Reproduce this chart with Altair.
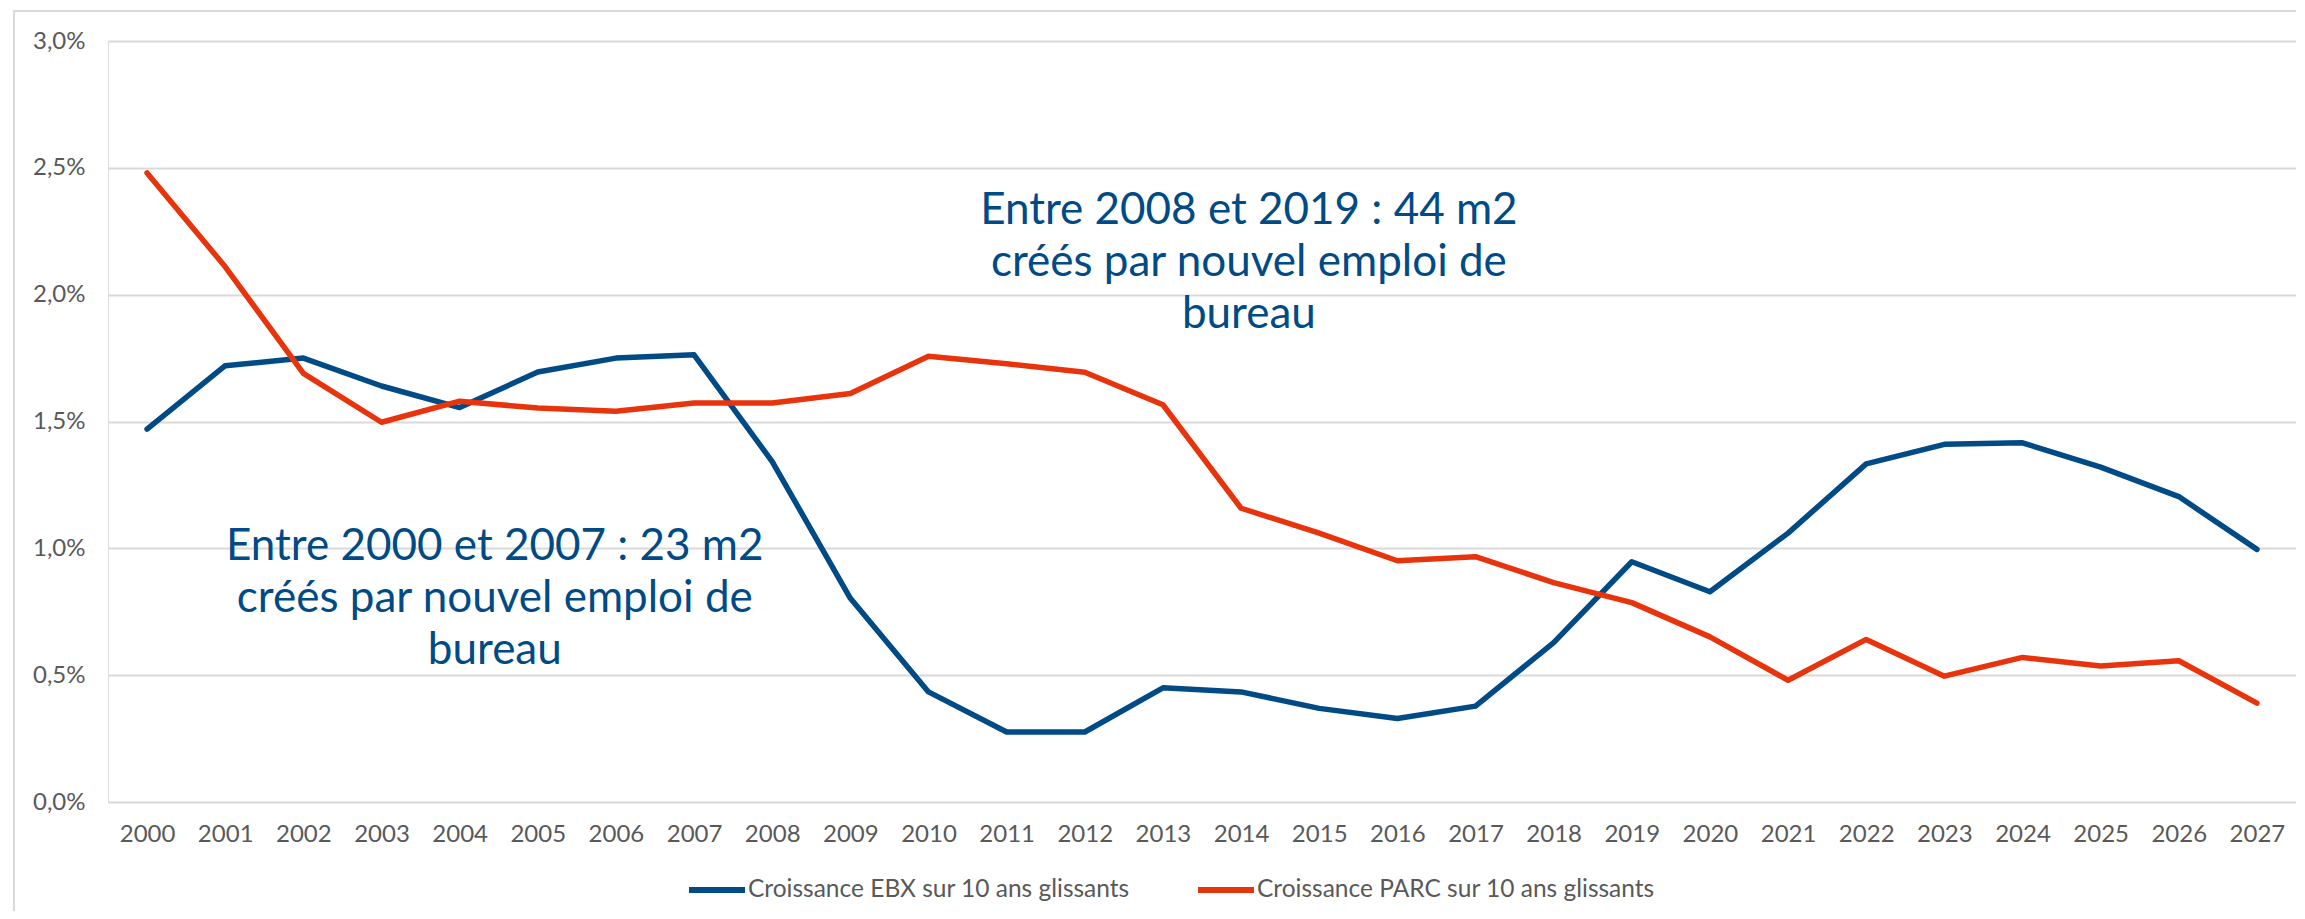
import altair as alt
import pandas as pd

years = list(range(2000, 2028))
ebx = [1.47, 1.72, 1.75, 1.64, 1.555, 1.695, 1.75, 1.763, 1.342, 0.803,
       0.434, 0.276, 0.276, 0.45, 0.434, 0.369, 0.329, 0.378, 0.628, 0.947,
       0.829, 1.06, 1.333, 1.41, 1.416, 1.32, 1.204, 0.996]
parc = [2.48, 2.11, 1.69, 1.497, 1.58, 1.553, 1.54, 1.573, 1.573, 1.61,
        1.757, 1.728, 1.694, 1.566, 1.158, 1.06, 0.951, 0.967, 0.865, 0.786,
        0.651, 0.48, 0.641, 0.496, 0.57, 0.536, 0.557, 0.39]
series_names = ["Croissance EBX sur 10 ans glissants",
                "Croissance PARC sur 10 ans glissants"]
series_colors = ["#004A86", "#E8340C"]

notes_text = ["Entre 2008 et 2019 : 44 m2\ncréés par nouvel emploi de\nbureau",
              "Entre 2000 et 2007 : 23 m2\ncréés par nouvel emploi de\nbureau"]
notes_x = [2014.1, 2004.45]
notes_y = [2.328, 1.006]

y_ticks = [0, 0.5, 1.0, 1.5, 2.0, 2.5, 3.0]

rows = []
for i, yr in enumerate(years):
    rows.append({"year": yr, "value": ebx[i], "series": series_names[0]})
    rows.append({"year": yr, "value": parc[i], "series": series_names[1]})
df = pd.DataFrame(rows)
notes = pd.DataFrame({"x": notes_x, "y": notes_y, "t": notes_text})

W, H = 2188, 761
xscale = alt.Scale(domain=[1999.5, 2027.5], nice=False, zero=False)
yscale = alt.Scale(domain=[0, 3], nice=False)

border = alt.Chart(pd.DataFrame({"a": [0]})).mark_rect(
    fill=None, stroke="#D9D9D9", strokeWidth=2, clip=False
).encode(
    x=alt.value(-94), x2=alt.value(2300), y=alt.value(-30), y2=alt.value(900)
)

lines = alt.Chart(df).mark_line(strokeWidth=5.5, strokeJoin="round", strokeCap="round").encode(
    x=alt.X("year:Q", scale=xscale, title=None,
            axis=alt.Axis(values=years, format="d", grid=False, ticks=False, tickSize=0,
                          domain=False, labelFont="Lato", labelFontSize=24,
                          labelColor="#595959", labelPadding=32, labelBaseline="middle")),
    y=alt.Y("value:Q", scale=yscale, title=None,
            axis=alt.Axis(values=y_ticks, grid=True, gridColor="#D9D9D9", gridWidth=2,
                          ticks=False, tickSize=0, domain=False,
                          labelExpr="replace(format(datum.value, '.1f'), '.', ',') + '%'",
                          labelFont="Lato", labelFontSize=24, labelColor="#595959",
                          labelPadding=23)),
    color=alt.Color("series:N",
                    scale=alt.Scale(domain=series_names, range=series_colors),
                    legend=alt.Legend(title=None, orient="none", direction="horizontal",
                                      legendX=578, legendY=818, padding=0,
                                      symbolType="stroke", symbolSize=3136,
                                      symbolStrokeWidth=6, labelFont="Lato",
                                      labelFontSize=24.5, labelColor="#595959",
                                      labelLimit=1000,
                                      labelOffset=0, columnPadding=56)),
)

text = alt.Chart(notes).mark_text(
    font="Lato", fontSize=44, color="#004A86", align="center", baseline="middle",
    lineBreak="\n", lineHeight=52
).encode(
    x=alt.X("x:Q", scale=xscale),
    y=alt.Y("y:Q", scale=yscale),
    text="t:N",
)

chart = alt.layer(border, lines, text).properties(
    width=W, height=H,
    autosize=alt.AutoSizeParams(type="none"),
    padding={"left": 100, "top": 33, "right": 0, "bottom": 109},
).configure_view(stroke=None).configure(background="white")

chart.save("out.html", embed_options={"renderer": "svg", "actions": False})
